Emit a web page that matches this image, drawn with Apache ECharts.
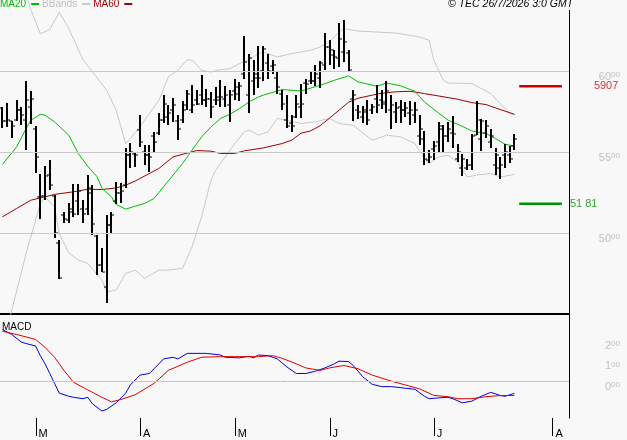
<!DOCTYPE html>
<html lang="en">
<head>
    <meta charset="UTF-8">
    <title>OHLC + MACD</title>
    <style>
        body { margin: 0; background: #f8f8f8; }
        #chart { width: 627px; height: 440px; }
    </style>
</head>
<body>
    <div id="chart"></div>
    <script src="https://cdn.jsdelivr.net/npm/echarts@6.0.0/dist/echarts.min.js"></script>
    <script>
        // slots = trading days, month ticks placed on slot index
        const slotCount = 120;
        const monthSlots = [7, 29, 49, 69, 91, 116];
        const monthLabels = ['M', 'A', 'M', 'J', 'J', 'A'];
        const priceTicks = [5000, 5500, 6000];
        const macdTicks = [0, 100, 200];

        const opens = [5770,5690,5690,5700,5760,5700,5780,5640,5222,5230,
            5360,5230,4940,5110,5080,5150,5200,5150,5150,5250,
            4980,4800,4668,5050,5200,5250,5300,5480,5490,5636,
            5500,5480,5600,5620,5700,5720,5760,5690,5700,5790,
            5760,5820,5850,5820,5830,5820,5820,5830,5790,5880,
            5860,5980,5850,5940,5960,6000,6050,6030,5960,5860,
            5700,5680,5720,5780,5930,5940,5940,5960,6040,6150,
            6130,6080,6120,6113,5830,5760,5720,5760,5760,5830,
            5820,5800,5760,5750,5780,5760,5740,5730,5600,5580,
            5450,5520,5560,5640,5600,5620,5460,5400,5400,5420,
            5605,5580,5620,5560,5420,5400,5480,5480,5540];
        const highs = [5776,5806,5695,5821,5779,5938,5876,5660,5368,5413,
            5450,5234,4956,5131,5183,5302,5302,5203,5358,5296,
            4987,4905,5111,5131,5316,5310,5523,5555,5502,5728,
            5543,5543,5625,5742,5852,5790,5837,5728,5816,5887,
            5913,5882,5975,5893,5872,5903,5944,5907,5882,5955,
            5934,6216,6109,6068,6154,6154,6109,6072,5995,5882,
            5852,5728,5852,5919,5955,5995,6037,6063,6236,6191,
            6134,6298,6319,6134,5887,5790,5784,5821,5800,5913,
            5882,5940,5852,5810,5825,5810,5816,5810,5728,5631,
            5516,5569,5687,5666,5687,5722,5549,5487,5455,5611,
            5816,5702,5697,5640,5523,5471,5549,5537,5611];
        const lows = [5650,5656,5588,5693,5666,5516,5673,5374,5084,5203,
            5265,4967,4714,5060,5060,5100,5111,5060,5111,4987,
            4740,4757,4566,4993,5179,5183,5276,5405,5409,5533,
            5420,5378,5492,5605,5681,5666,5687,5574,5677,5759,
            5742,5790,5790,5779,5714,5790,5776,5776,5687,5821,
            5816,5955,5739,5852,5899,5940,5955,5985,5862,5759,
            5652,5625,5708,5708,5862,5924,5907,5899,6006,6037,
            6016,6026,6057,6002,5693,5702,5677,5666,5734,5739,
            5769,5739,5646,5681,5677,5718,5666,5677,5543,5420,
            5430,5450,5502,5502,5563,5523,5440,5352,5389,5389,
            5605,5508,5590,5523,5358,5337,5405,5430,5516];
        const closes = [5690,5700,5660,5760,5728,5820,5830,5467,5230,5352,
            5300,5000,4720,5090,5130,5120,5260,5120,5280,5055,
            4800,4760,5049,5110,5250,5260,5480,5500,5480,5563,
            5480,5470,5560,5700,5800,5740,5790,5640,5760,5860,
            5790,5800,5820,5830,5780,5840,5840,5850,5850,5900,
            5910,6060,6080,5980,5960,6140,6000,6040,5900,5800,
            5660,5660,5800,5800,5920,5940,5980,6050,6150,6100,
            6090,6200,6180,6010,5850,5750,5750,5700,5780,5790,
            5810,5880,5790,5770,5760,5770,5760,5760,5640,5460,
            5470,5540,5660,5600,5640,5610,5500,5460,5420,5600,
            5700,5690,5660,5600,5480,5420,5500,5460,5580];

        // indicator lines: [slot, value]
        const ma20 = [[0,5424],[3,5532],[5,5646],[6,5697],[8,5734],[9,5728],[11,5687],[14,5605],[16,5492],[18,5413],
            [20,5347],[21,5276],[23,5224],[24,5177],[26,5148],[28,5166],[30,5183],[32,5214],[34,5286],[36,5358],
            [38,5430],[40,5512],[42,5594],[44,5656],[46,5708],[48,5734],[50,5769],[52,5810],[54,5841],[55,5852],
            [59,5887],[63,5878],[67,5913],[70,5944],[73,5971],[75,5934],[79,5907],[81,5927],[84,5910],[87,5876],
            [89,5810],[92,5742],[94,5697],[97,5660],[99,5631],[102,5615],[104,5584],[106,5549],[108,5537]];
        const ma60 = [[0,5100],[3,5152],[6,5203],[9,5224],[11,5239],[15,5255],[18,5271],[21,5269],[24,5279],[26,5296],
            [28,5321],[29,5337],[33,5399],[36,5471],[40,5502],[41,5510],[44,5506],[46,5492],[49,5492],[51,5508],
            [55,5526],[59,5553],[61,5574],[63,5617],[65,5631],[67,5663],[69,5710],[71,5759],[73,5808],[75,5833],
            [78,5852],[80,5864],[83,5873],[86,5876],[89,5862],[92,5847],[96,5827],[99,5806],[102,5794],[105,5763],[108,5734]];
        const bbUpper = [[0,6900],[3,6650],[6,6381],[8,6232],[10,6257],[12,6366],[14,6263],[17,6072],[22,5882],[24,5759],
            [26,5553],[27,5584],[30,5697],[33,5821],[35,5965],[37,6006],[39,6072],[40,6068],[42,6006],[44,5995],
            [46,6010],[48,6016],[50,6047],[52,6068],[54,6109],[55,6119],[58,6088],[61,6109],[65,6129],[67,6150],
            [69,6181],[71,6242],[72,6263],[75,6248],[79,6242],[83,6236],[88,6211],[90,6191],[91,6068],[93,5944],
            [94,5927],[99,5924],[101,5893],[103,5862],[105,5800],[107,5739],[108,5732]];
        const bbLower = [[0,4300],[2,4524],[5,4874],[8,5183],[9,5224],[11,5162],[12,4998],[14,4878],[16,4833],[18,4813],
            [21,4710],[22,4637],[24,4648],[26,4751],[28,4771],[30,4720],[33,4771],[35,4771],[38,4782],[40,4915],
            [42,5100],[44,5327],[45,5389],[49,5553],[51,5625],[52,5636],[54,5605],[56,5625],[58,5708],[60,5697],
            [63,5677],[66,5687],[69,5708],[71,5677],[74,5666],[78,5574],[81,5605],[84,5594],[87,5553],[89,5461],
            [90,5430],[92,5471],[94,5481],[96,5440],[98,5347],[100,5358],[103,5368],[105,5347],[108,5362]];

        const resistance = 5907;
        const support = 5181;
        const levelSlots = [109, 118];

        const macd = [[0,251],[2,227],[4,190],[5,183],[7,171],[8,124],[9,84],[10,37],[11,-11],[12,-59],
            [14,-74],[15,-79],[17,-86],[18,-79],[19,-111],[21,-146],[22,-138],[24,-106],[26,-59],[27,-19],
            [29,29],[31,37],[32,60],[34,108],[36,116],[37,108],[39,135],[43,135],[46,127],[47,116],
            [50,113],[52,121],[53,113],[54,127],[56,124],[58,108],[60,69],[62,37],[64,37],[66,48],
            [68,64],[70,84],[71,97],[73,95],[74,76],[76,21],[78,-16],[80,-27],[82,-27],[85,-35],
            [87,-40],[89,-74],[90,-86],[92,-82],[94,-79],[95,-86],[97,-106],[99,-98],[101,-74],[103,-55],
            [105,-70],[106,-74],[108,-60]];
        const signal = [[0,243],[3,227],[7,203],[9,164],[11,116],[13,52],[15,-6],[18,-43],[21,-79],[23,-101],
            [25,-90],[28,-67],[32,-11],[35,52],[39,92],[42,116],[46,119],[49,119],[54,119],[57,124],
            [59,111],[62,84],[64,64],[67,52],[69,64],[72,76],[75,60],[78,29],[82,0],[85,-19],
            [88,-38],[91,-70],[94,-76],[96,-86],[99,-86],[102,-76],[105,-71],[108,-70]];

        const cats = [];
        for (let i = 0; i < slotCount; i++) {
            const k = monthSlots.indexOf(i);
            cats.push(k >= 0 ? monthLabels[k] : '');
        }
        const bars = opens.map((o, i) => [i, o, highs[i], lows[i], closes[i]]);
        const isMonth = (idx, val) => val !== '';

        const GRID = '#c8c8c8';
        const chart = echarts.init(document.getElementById('chart'));

        function renderBar(params, api) {
            const x = api.value(0);
            const pH = api.coord([x, api.value(2)]);
            const pL = api.coord([x, api.value(3)]);
            const pO = api.coord([x, api.value(1)]);
            const pC = api.coord([x, api.value(4)]);
            const px = Math.round(pH[0]);
            const st = { stroke: '#000', lineWidth: 2 };
            const yo = Math.round(pO[1]), yc = Math.round(pC[1]);
            return {
                type: 'group',
                children: [
                    { type: 'line', shape: { x1: px, y1: Math.round(pH[1]), x2: px, y2: Math.round(pL[1]) }, style: st },
                    { type: 'line', shape: { x1: px - 3, y1: yo, x2: px, y2: yo }, style: { stroke: '#000', lineWidth: 1 } },
                    { type: 'line', shape: { x1: px, y1: yc, x2: px + 3, y2: yc }, style: { stroke: '#000', lineWidth: 1 } }
                ]
            };
        }

        // month ticks hanging below the lower panel, placed through the x axis
        function renderMonthTick(params, api) {
            const p = api.coord([api.value(0), -180]);
            const x = Math.round(p[0]) + 0.5;
            return { type: 'line', shape: { x1: x, y1: p[1], x2: x, y2: p[1] + 18 }, style: { stroke: '#000', lineWidth: 1 } };
        }

        const smallDigits = { fontSize: 8, color: '#c0c0c0', verticalAlign: 'top', fontFamily: 'Liberation Sans' };
        const bigDigits = { fontSize: 11, color: '#c0c0c0', fontFamily: 'Liberation Sans' };

        const option = {
            backgroundColor: '#f8f8f8',
            animation: false,
            title: [
                {
                    text: '© TEC 26/7/2026 3:0 GMT', left: 447, top: -1, padding: [0, 1],
                    backgroundColor: '#f8f8f8',
                    textStyle: { fontSize: 10.5, fontStyle: 'italic', fontWeight: 'normal', color: '#000', fontFamily: 'Liberation Sans' }
                },
                {
                    text: 'MACD', left: 2, top: 322, padding: 0,
                    textStyle: { fontSize: 10, fontWeight: 'normal', color: '#000', fontFamily: 'Liberation Sans' }
                }
            ],
            legend: {
                left: 0, top: -1, padding: 0, itemGap: 3, itemWidth: 8, itemHeight: 2,
                icon: 'rect', align: 'right', selectedMode: false,
                textStyle: { fontSize: 10, fontFamily: 'Liberation Sans' },
                data: [
                    { name: 'MA20', textStyle: { color: '#00c000' } },
                    { name: 'BBands', textStyle: { color: '#c0c0c0' } },
                    { name: 'MA60', textStyle: { color: '#a00000' } }
                ]
            },
            grid: [
                { left: 0, top: 0, width: 569, height: 314 },
                { left: 0, top: 315, width: 569, height: 103 }
            ],
            xAxis: [
                {
                    gridIndex: 0, type: 'category', data: cats,
                    axisLine: { lineStyle: { color: '#000', width: 2 } },
                    axisTick: { show: false }, axisLabel: { show: false }, splitLine: { show: false }
                },
                {
                    gridIndex: 1, type: 'category', data: cats,
                    axisLine: { lineStyle: { color: '#000', width: 1 } },
                    axisTick: { show: false },
                    axisLabel: { interval: isMonth, align: 'left', margin: 10, padding: [0, 0, 0, 3], color: '#000', fontSize: 11, fontFamily: 'Liberation Sans' },
                    splitLine: { show: false }
                }
            ],
            yAxis: [
                {
                    gridIndex: 0, type: 'value', position: 'right', min: 4500, max: 6440,
                    axisLine: { show: true, lineStyle: { color: '#000' } },
                    axisTick: { show: false },
                    splitLine: { show: false },
                    axisLabel: {
                        customValues: priceTicks,
                        margin: 51, align: 'right', verticalAlign: 'top',
                        formatter: v => '{b|' + String(v).slice(0, 2) + '}{s|' + String(v).slice(2) + '}',
                        rich: { b: bigDigits, s: smallDigits }
                    }
                },
                {
                    gridIndex: 1, type: 'value', position: 'right', min: -180, max: 322,
                    axisLine: { show: true, lineStyle: { color: '#000' } },
                    axisTick: { show: false },
                    splitLine: { show: false },
                    axisLabel: {
                        customValues: macdTicks,
                        margin: 51, align: 'right', verticalAlign: 'top',
                        formatter: v => '{b|' + (v / 100) + '}{s|00}',
                        rich: { b: bigDigits, s: smallDigits }
                    }
                }
            ],
            series: [
                {
                    name: 'BBands', type: 'line', data: bbUpper, symbol: 'none',
                    color: '#c8c8c8', lineStyle: { width: 1, color: '#c8c8c8' }, z: 1,
                    markLine: {
                        silent: true, symbol: 'none', label: { show: false },
                        lineStyle: { color: GRID, type: 'solid', width: 1 },
                        data: priceTicks.map(v => ({ yAxis: v }))
                    }
                },
                {
                    name: 'BBands', type: 'line', data: bbLower, symbol: 'none',
                    color: '#c8c8c8', lineStyle: { width: 1, color: '#c8c8c8' }, z: 1
                },
                {
                    name: 'MA60', type: 'line', data: ma60, symbol: 'none',
                    color: '#a00000', lineStyle: { width: 1, color: '#a00000' }, z: 2
                },
                {
                    name: 'MA20', type: 'line', data: ma20, symbol: 'none',
                    color: '#00c000', lineStyle: { width: 1, color: '#00c000' }, z: 2
                },
                {
                    name: 'OHLC', type: 'custom', renderItem: renderBar, data: bars,
                    encode: { x: 0, y: [1, 2, 3, 4] }, z: 3
                },
                {
                    name: 'Resistance', type: 'line', symbol: 'none',
                    data: levelSlots.map(s => [s, resistance]),
                    lineStyle: { width: 2.5, color: '#cc0000' }, z: 3
                },
                {
                    name: 'Support', type: 'line', symbol: 'none',
                    data: levelSlots.map(s => [s, support]),
                    lineStyle: { width: 2.5, color: '#009000' }, z: 3
                },
                {
                    name: 'levelLabels', type: 'scatter', symbolSize: 0, z: 4,
                    data: [
                        { value: [levelSlots[1], resistance], label: { show: true, position: 'right', distance: 32, formatter: String(resistance), color: '#cc0000' } },
                        { value: [levelSlots[1], support], label: { show: true, position: 'right', distance: 8, formatter: '51 81', color: '#009000' } }
                    ],
                    label: { fontSize: 11, fontFamily: 'Liberation Sans' }
                },
                {
                    name: 'MACD', type: 'line', xAxisIndex: 1, yAxisIndex: 1, data: macd, symbol: 'none',
                    lineStyle: { width: 1, color: '#0000e0' }, z: 3,
                    markLine: {
                        silent: true, symbol: 'none', label: { show: false },
                        lineStyle: { color: GRID, type: 'solid', width: 1 },
                        data: [{ yAxis: 0 }]
                    }
                },
                {
                    name: 'Signal', type: 'line', xAxisIndex: 1, yAxisIndex: 1, data: signal, symbol: 'none',
                    lineStyle: { width: 1, color: '#e00000' }, z: 4
                },
                {
                    name: 'monthTicks', type: 'custom', xAxisIndex: 1, yAxisIndex: 1, clip: false,
                    renderItem: renderMonthTick, data: monthSlots.map(s => [s]), z: 5
                }
            ]
        };
        chart.setOption(option);
    </script>
</body>
</html>
